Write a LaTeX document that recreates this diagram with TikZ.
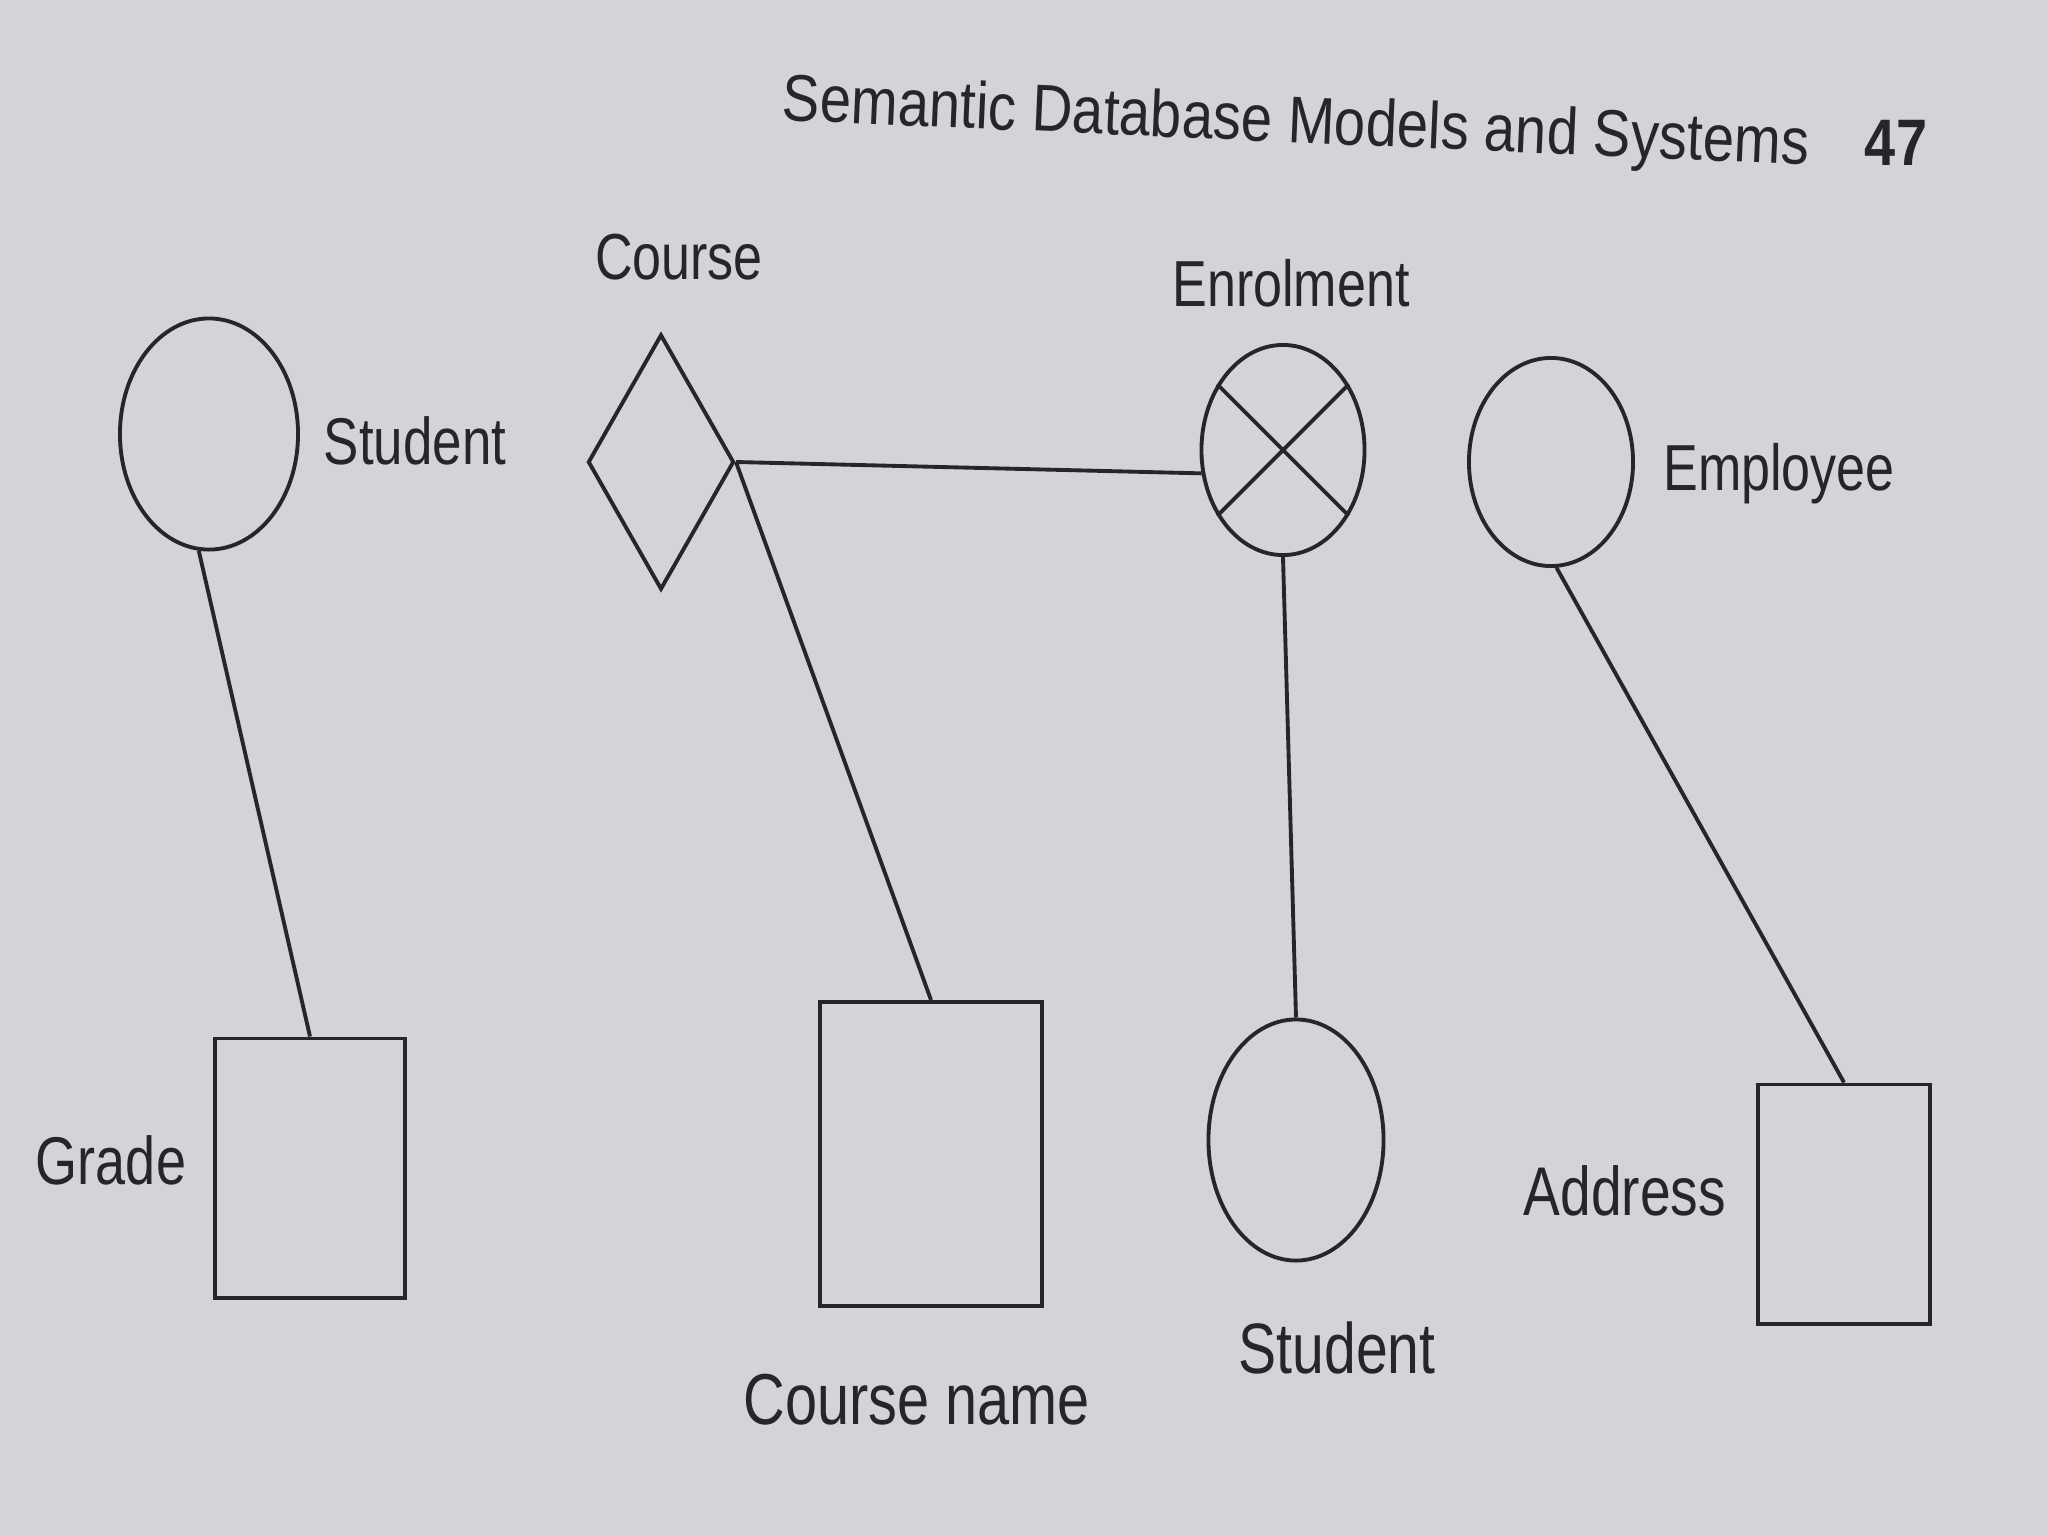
\documentclass[tikz,border=0pt]{standalone}
\usepackage{fontspec}
\usepackage{xcolor}
\usepackage{tikz}
\usetikzlibrary{shapes.geometric,positioning}
\newfontfamily\lblfont{Liberation Sans}[FakeStretch=0.8]
\newfontfamily\hdfont{Liberation Sans}[FakeStretch=0.85]
\definecolor{paper}{HTML}{D3D4D9}
\definecolor{ink}{HTML}{26262A}

\begin{document}
\begin{tikzpicture}[
    x=0.01cm, y=-0.01cm,
    ent/.style={ellipse, draw=ink, line width=1.1pt, inner sep=0pt},
    rel/.style={diamond, draw=ink, line width=1.1pt, inner sep=0pt},
    attr/.style={rectangle, draw=ink, line width=1.1pt, inner sep=0pt},
    lbl/.style={font=\lblfont\fontsize{#1}{#1}\selectfont, text=ink, inner sep=0pt},
    lbl/.default=18.5,
    link/.style={draw=ink, line width=1.1pt}
]
% Page
\fill[paper] (0,0) rectangle (2048,1536);

% Running head
\node[font=\hdfont\fontsize{18.8}{22}\selectfont, text=ink, anchor=base west, rotate=-2.5, inner sep=0pt] (head) at (781,120) {Semantic Database Models and Systems};
\node[font=\hdfont\bfseries\fontsize{18.7}{22}\selectfont, text=ink, anchor=base, inner sep=0pt] (page) at (1896,165) {47};

% Student
\node[ent, minimum width=1.78cm, minimum height=2.31cm] (stuA) at (209,434) {};
\node[lbl=18.8] (stuAl) at (415,441) {Student};

% Course
\node[rel, minimum width=1.46cm, minimum height=2.55cm] (course) at (661,462) {};
\node[lbl] (coursel) at (679,257) {Course};

% Enrolment
\node[ent, minimum width=1.63cm, minimum height=2.10cm] (enrol) at (1283,450) {};
\node[lbl] (enroll) at (1291,283) {Enrolment};
\draw[link] (enrol.135) -- (enrol.-45);
\draw[link] (enrol.45) -- (enrol.-135);

% Employee
\node[ent, minimum width=1.64cm, minimum height=2.08cm] (emp) at (1551,462) {};
\node[lbl] (empl) at (1779,474) {Employee};

% Grade
\node[attr, minimum width=1.90cm, minimum height=2.59cm] (grade) at (310,1168) {};
\node[lbl=19.2] (gradel) at (111,1160) {Grade};

% Course name
\node[attr, minimum width=2.22cm, minimum height=3.04cm] (cname) at (931,1154) {};
\node[lbl=20.5] (cnamel) at (917,1400) {Course name};

% Student (member)
\node[ent, minimum width=1.75cm, minimum height=2.41cm] (stuB) at (1296,1140) {};
\node[lbl=20.3] (stuBl) at (1337,1348) {Student};

% Address
\node[attr, minimum width=1.72cm, minimum height=2.39cm] (addr) at (1844,1204) {};
\node[lbl=19.6] (addrl) at (1625,1191) {Address};

% Links
\draw[link] (stuA.-95) -- (grade.north);
\draw[link] (course.east) -- (enrol.196);
\draw[link] (course.east) -- (cname.north);
\draw[link] (enrol.south) -- (stuB.north);
\draw[link] (emp.-87) -- (addr.north);

\end{tikzpicture}
\end{document}
